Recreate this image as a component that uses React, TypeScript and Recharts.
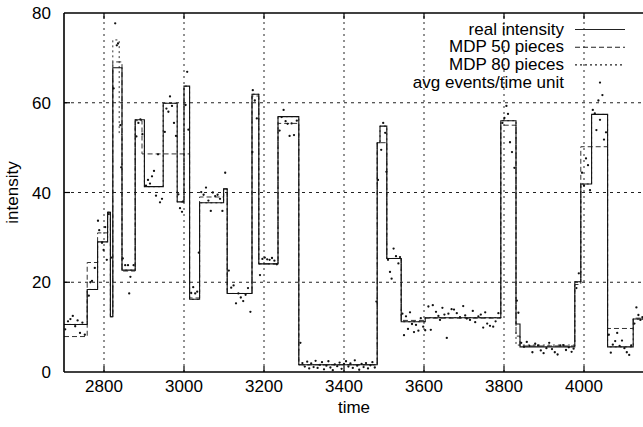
import React from "react";
import {
  ComposedChart,
  Line,
  Scatter,
  XAxis,
  YAxis,
  ReferenceLine,
  Customized,
} from "recharts";

// ---- data ----
const realT = [2700, 2758, 2784, 2809, 2816, 2822, 2845, 2878, 2901, 2948, 2983, 3000, 3014, 3039, 3099, 3108, 3170, 3187, 3235, 3287, 3483, 3490, 3507, 3543, 3603, 3792, 3830, 3840, 3977, 3992, 4019, 4059, 4123, 4150];
const realV = [10.6, 18.4, 29.0, 35.6, 12.3, 67.8, 22.7, 56.2, 41.3, 59.9, 37.9, 63.7, 16.2, 37.7, 40.8, 17.5, 61.9, 24.1, 56.9, 1.6, 51.1, 54.8, 25.3, 11.2, 12.1, 56.0, 10.7, 5.6, 20.1, 41.9, 57.4, 5.6, 11.8, 11.8];

const mdp50T = [2700, 2758, 2784, 2809, 2816, 2822, 2845, 2878, 2895, 3014, 3039, 3099, 3108, 3170, 3187, 3235, 3287, 3483, 3507, 3543, 3602, 3792, 3830, 3840, 3977, 3992, 4059, 4123, 4150];
const mdp50V = [7.9, 24.4, 31.0, 35.6, 12.3, 69.1, 22.5, 56.0, 48.6, 16.5, 39.0, 40.8, 17.5, 61.5, 24.1, 55.4, 1.6, 51.1, 25.3, 11.5, 12.0, 55.0, 8.0, 5.8, 19.5, 50.2, 9.7, 12.0, 12.0];

const mdp80T = [2700, 2758, 2784, 2809, 2816, 2822, 2838, 2845, 2878, 2901, 2948, 2983, 3000, 3014, 3039, 3099, 3108, 3170, 3187, 3235, 3287, 3483, 3490, 3507, 3543, 3603, 3792, 3830, 3977, 3992, 4019, 4059, 4123, 4150];
const mdp80V = [10.6, 18.4, 29.0, 35.6, 12.3, 74.0, 53.0, 22.7, 56.2, 41.3, 59.9, 37.9, 63.7, 16.2, 37.7, 40.8, 17.5, 61.9, 24.1, 56.9, 1.6, 51.1, 54.8, 25.3, 11.2, 12.1, 56.0, 6.0, 20.1, 41.9, 57.4, 5.6, 11.8, 11.8];

const ptsT = [
  2703, 2710, 2716, 2722, 2728, 2734, 2740, 2746, 2752,
  2762, 2766, 2770, 2777,
  2785, 2788, 2795, 2799, 2803, 2807,
  2812, 2818,
  2824, 2828, 2832, 2835, 2841, 2843,
  2847, 2853, 2860, 2863, 2866, 2874,
  2881, 2886, 2891, 2896,
  2905, 2910, 2915, 2920, 2925, 2930, 2935, 2940, 2945,
  2952, 2956, 2961, 2965, 2970, 2975, 2980,
  2986, 2990, 2995, 2998,
  3004, 3008, 3011,
  3018, 3023, 3028, 3033, 3037,
  3043, 3049, 3055, 3061, 3067, 3072, 3078, 3084, 3090, 3096,
  3103,
  3112, 3118, 3124, 3130, 3136, 3142, 3148, 3154, 3160, 3166,
  3171, 3172, 3177, 3182,
  3190, 3196, 3202, 3208, 3214, 3220, 3226, 3232,
  3239, 3244, 3249, 3254, 3259, 3264, 3269, 3275, 3282,
  3291, 3296, 3302, 3308, 3313, 3318, 3324, 3329, 3334, 3340, 3345, 3350, 3356, 3361, 3366, 3372, 3377, 3383, 3389, 3394, 3400, 3405, 3411, 3416, 3422, 3427, 3433, 3438, 3444, 3449, 3455, 3460, 3466, 3471, 3477, 3481,
  3485, 3493, 3498, 3503, 3506,
  3510, 3515, 3519, 3524, 3530, 3536, 3540,
  3546, 3550, 3555, 3560, 3565, 3570, 3575, 3580, 3586, 3592, 3598, 3603,
  3611, 3617, 3622, 3630, 3636, 3640, 3646, 3651, 3657, 3661, 3669, 3675, 3682, 3690, 3698, 3703, 3707, 3715, 3722, 3728, 3736, 3742, 3748, 3753, 3758, 3765, 3773, 3779, 3786,
  3796, 3801, 3806, 3810, 3815, 3820, 3826,
  3832, 3836,
  3843, 3850, 3857, 3864, 3871, 3878, 3885, 3892, 3899, 3906, 3913, 3920, 3927, 3934, 3941, 3948, 3955, 3962, 3969, 3974,
  3981, 3987,
  3995, 4000, 4005, 4010, 4015,
  4022, 4027, 4031, 4036, 4040, 4046, 4050, 4055,
  4062, 4067, 4072, 4078, 4083, 4089, 4095, 4101, 4107, 4113, 4118,
  4126, 4131, 4136, 4141, 4146,
];
const ptsV = [
  9.5, 11.3, 11.8, 12.5, 10.2, 11.5, 8.7, 11.0, 8.3,
  17.0, 20.0, 20.3, 23.2,
  33.7, 31.6, 28.8, 27.2, 32.3, 25.0,
  35.2, 25.5,
  63.2, 77.7, 72.8, 73.2, 55.0, 45.6,
  25.3, 23.8, 23.8, 17.5, 21.2, 23.8,
  52.5, 55.5, 56.3, 53.0,
  41.5, 42.8, 42.0, 43.6, 44.8, 39.3, 48.5, 37.8, 38.6,
  53.5, 58.7, 58.0, 61.4, 59.3, 55.5, 52.6,
  39.6, 36.5, 35.7, 38.0,
  59.5, 66.9, 54.0,
  17.6, 18.9, 17.5, 17.9, 26.6,
  40.1, 39.5, 41.1, 38.2, 35.9, 40.0, 39.2, 39.5, 38.6, 35.9,
  44.4,
  22.6, 18.8, 19.3, 15.3, 17.5, 16.6, 15.8, 17.2, 18.7, 13.4,
  49.0, 62.8, 60.5, 56.5,
  21.6, 25.2, 25.5, 25.1, 25.0, 25.4, 24.8, 24.0,
  53.8, 56.8, 58.4, 55.9, 55.3, 52.6, 55.4, 52.8, 56.0,
  6.5, 2.0, 1.2, 2.3, 0.8, 1.9, 1.1, 2.5, 0.9, 1.6, 2.2, 0.6, 1.4, 2.4, 1.0, 0.4, 1.7, 1.3, 2.1, 0.7, 1.8, 2.4, 1.2, 1.9, 0.9, 2.6, 1.4, 0.5, 1.8, 1.1, 2.0, 0.8, 1.5, 2.2, 1.0, 15.7,
  42.8, 49.5, 55.5, 53.3, 44.6,
  25.0, 22.3, 20.8, 27.5, 25.8, 24.2, 25.6,
  13.0, 8.2, 12.4, 9.6, 13.3, 10.7, 8.9, 10.5, 9.2, 12.0, 10.1, 9.3,
  14.6, 9.4, 14.9, 13.4, 12.5, 11.6, 14.3, 12.8, 7.6, 13.0, 14.0, 13.9, 13.1, 12.2, 14.7, 12.6, 11.9, 11.6, 13.6, 11.1, 12.4, 12.8, 9.9, 13.3, 10.8, 10.3, 10.1, 11.3, 13.1,
  55.5, 56.6, 59.3, 57.5, 51.2, 49.0, 45.5,
  15.9, 13.2,
  6.5, 5.6, 6.7, 5.8, 4.4, 6.3, 5.9, 4.8, 4.2, 5.3, 6.5, 5.1, 4.4, 3.9, 5.9, 6.0, 4.9, 5.5, 4.5, 5.2,
  18.7, 22.0,
  44.4, 41.5, 47.6, 46.1, 40.5,
  58.4, 57.6, 53.9, 60.5, 56.2, 61.7, 51.8, 53.4,
  8.3, 4.3, 6.1, 6.9, 8.7, 5.8, 7.0, 5.3, 4.4, 3.8, 5.9,
  10.8, 14.4, 12.7, 11.6, 12.2,
];

const xTicks = [2800, 3000, 3200, 3400, 3600, 3800, 4000];
const yTicks = [0, 20, 40, 60, 80];
const legendLabels = ["real intensity", "MDP 50 pieces", "MDP 80 pieces", "avg events/time unit"];

// ---- layout ----
const FONT = "'Liberation Sans', Arial, Helvetica, sans-serif";
const CHART_W = 650;
const CHART_H = 427;
const MARGIN = { top: 13, right: 6, bottom: 0, left: 0 };
const Y_AXIS_W = 64;
const X_AXIS_H = 55;
const X_DOMAIN: [number, number] = [2700, 4150];
const Y_DOMAIN: [number, number] = [0, 80];
const PLOT_W = CHART_W - MARGIN.left - MARGIN.right - Y_AXIS_W;
const PLOT_H = CHART_H - MARGIN.top - MARGIN.bottom - X_AXIS_H;
const TICK_PX = 6;
const xTickLen = (TICK_PX * (X_DOMAIN[1] - X_DOMAIN[0])) / PLOT_W;
const yTickLen = (TICK_PX * (Y_DOMAIN[1] - Y_DOMAIN[0])) / PLOT_H;

const toSteps = (ts: number[], vs: number[]) => ts.map((t, i) => ({ t, v: vs[i] }));
const realData = toSteps(realT, realV);
const mdp50Data = toSteps(mdp50T, mdp50V);
const mdp80Data = toSteps(mdp80T, mdp80V);
const ptsData = ptsT.map((t, i) => ({ t, v: ptsV[i] }));

const Dot = (props: any) => {
  const { cx, cy } = props;
  if (cx == null || cy == null) return null;
  return <circle cx={cx} cy={cy} r={1.15} fill="#111" />;
};

const LEG_TEXT_X = 564;
const LEG_LINE_X1 = 575;
const LEG_LINE_X2 = 625;
const LEG_BASE_Y = 34.5;
const LEG_STEP = 17.7;

const LegendBox = () => {
  const styles = [
    { dash: undefined as string | undefined },
    { dash: "5 3" },
    { dash: "2 3" },
    { dash: "dot" },
  ];
  return (
    <g>
      {legendLabels.map((lab, i) => {
        const by = LEG_BASE_Y + i * LEG_STEP;
        const ly = by - 5;
        const s = styles[i];
        return (
          <g key={lab}>
            <text
              x={LEG_TEXT_X}
              y={by}
              textAnchor="end"
              fontFamily={FONT}
              fontSize={17}
              fill="#000"
            >
              {lab}
            </text>
            {s.dash === "dot" ? (
              <circle cx={(LEG_LINE_X1 + LEG_LINE_X2) / 2} cy={ly} r={1.15} fill="#111" />
            ) : (
              <line
                x1={LEG_LINE_X1}
                x2={LEG_LINE_X2}
                y1={ly}
                y2={ly}
                stroke="#222"
                strokeWidth={1.1}
                strokeDasharray={s.dash}
              />
            )}
          </g>
        );
      })}
    </g>
  );
};

export default function App() {
  return (
    <div
      style={{
        position: "absolute",
        left: 0,
        top: 0,
        width: 643,
        height: 427,
        overflow: "hidden",
        background: "#fff",
        fontFamily: FONT,
      }}
    >
      <ComposedChart width={CHART_W} height={CHART_H} margin={MARGIN}>
        <XAxis
          dataKey="t"
          type="number"
          domain={X_DOMAIN}
          ticks={xTicks}
          allowDataOverflow
          height={X_AXIS_H}
          tickSize={6}
          tickMargin={2}
          tickLine={false}
          axisLine={{ stroke: "#000", strokeWidth: 1.6 }}
          tick={{ fontSize: 17, fill: "#000", fontFamily: FONT }}
          label={{ value: "time", position: "insideBottom", offset: 14, fontSize: 17, fill: "#000", fontFamily: FONT }}
        />
        <YAxis
          dataKey="v"
          type="number"
          domain={Y_DOMAIN}
          ticks={yTicks}
          allowDataOverflow
          width={Y_AXIS_W}
          tickSize={6}
          tickMargin={7}
          tickLine={false}
          axisLine={{ stroke: "#000", strokeWidth: 1.6 }}
          tick={{ fontSize: 17, fill: "#000", fontFamily: FONT }}
          label={{
            value: "intensity",
            angle: -90,
            position: "insideLeft",
            offset: 12,
            fontSize: 17,
            fill: "#000",
            fontFamily: FONT,
            style: { textAnchor: "middle" },
          }}
        />
        {/* grid */}
        {xTicks.map((x) => (
          <ReferenceLine key={"gx" + x} x={x} stroke="#222" strokeWidth={1} strokeDasharray="2 4" />
        ))}
        {yTicks
          .filter((y) => y > Y_DOMAIN[0] && y < Y_DOMAIN[1])
          .map((y) => (
            <ReferenceLine key={"gy" + y} y={y} stroke="#222" strokeWidth={1} strokeDasharray="3 4" />
          ))}
        {/* top border */}
        <ReferenceLine y={Y_DOMAIN[1]} stroke="#000" strokeWidth={1.6} />
        {/* tick marks (inward) */}
        {xTicks.map((x) => (
          <ReferenceLine
            key={"tb" + x}
            segment={[
              { x, y: Y_DOMAIN[0] },
              { x, y: Y_DOMAIN[0] + yTickLen },
            ]}
            stroke="#000"
            strokeWidth={1.2}
          />
        ))}
        {xTicks.map((x) => (
          <ReferenceLine
            key={"tt" + x}
            segment={[
              { x, y: Y_DOMAIN[1] },
              { x, y: Y_DOMAIN[1] - yTickLen },
            ]}
            stroke="#000"
            strokeWidth={1.2}
          />
        ))}
        {yTicks
          .filter((y) => y > Y_DOMAIN[0] && y < Y_DOMAIN[1])
          .map((y) => (
            <ReferenceLine
              key={"tl" + y}
              segment={[
                { x: X_DOMAIN[0], y },
                { x: X_DOMAIN[0] + xTickLen, y },
              ]}
              stroke="#000"
              strokeWidth={1.2}
            />
          ))}
        <Line
          data={mdp80Data}
          dataKey="v"
          type="stepAfter"
          stroke="#333"
          strokeWidth={1}
          strokeDasharray="2 3"
          dot={false}
          activeDot={false}
          isAnimationActive={false}
        />
        <Line
          data={mdp50Data}
          dataKey="v"
          type="stepAfter"
          stroke="#333"
          strokeWidth={1}
          strokeDasharray="5 3"
          dot={false}
          activeDot={false}
          isAnimationActive={false}
        />
        <Line
          data={realData}
          dataKey="v"
          type="stepAfter"
          stroke="#111"
          strokeWidth={1.1}
          dot={false}
          activeDot={false}
          isAnimationActive={false}
        />
        <Scatter data={ptsData} dataKey="v" shape={<Dot />} isAnimationActive={false} />
        <Customized component={LegendBox} />
      </ComposedChart>
    </div>
  );
}
